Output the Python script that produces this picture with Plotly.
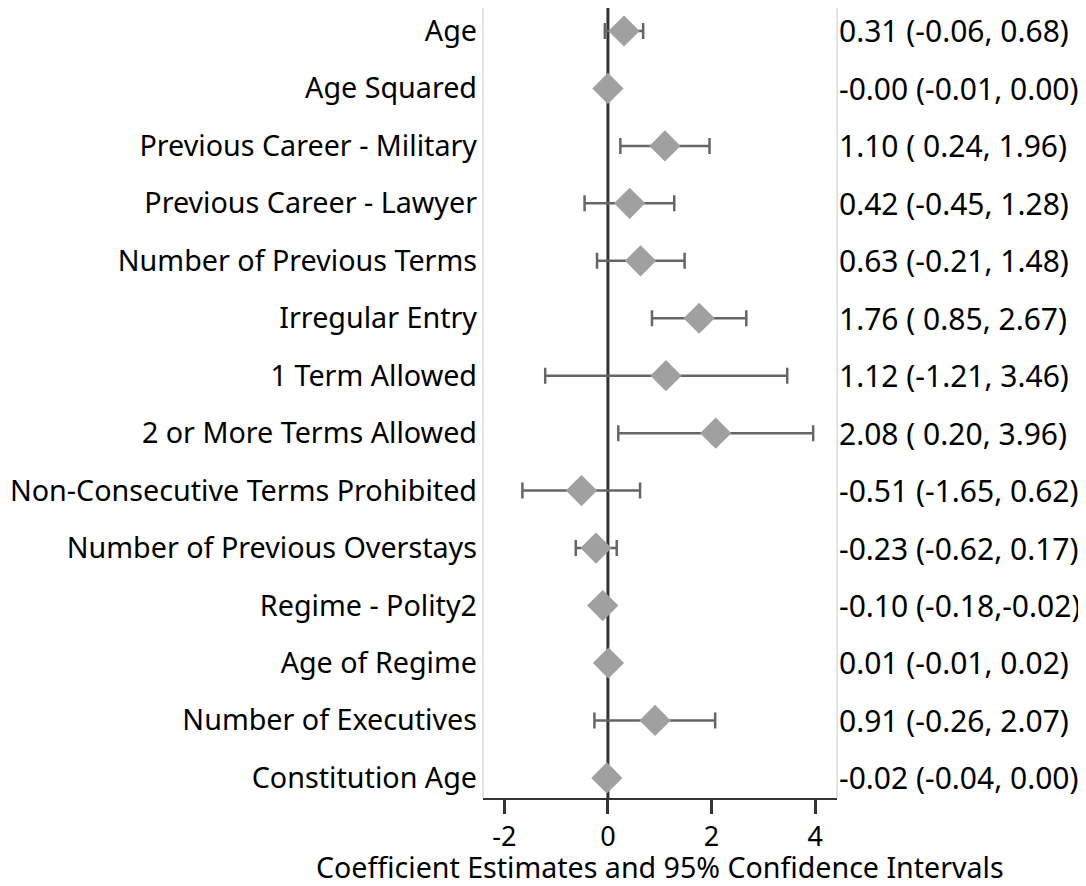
import plotly.graph_objects as go

labels = ["Age", "Age Squared", "Previous Career - Military", "Previous Career - Lawyer",
          "Number of Previous Terms", "Irregular Entry", "1 Term Allowed",
          "2 or More Terms Allowed", "Non-Consecutive Terms Prohibited",
          "Number of Previous Overstays", "Regime - Polity2", "Age of Regime",
          "Number of Executives", "Constitution Age"]
est = [0.31, -0.00, 1.10, 0.42, 0.63, 1.76, 1.12, 2.08, -0.51, -0.23, -0.10, 0.01, 0.91, -0.02]
lo = [-0.06, -0.01, 0.24, -0.45, -0.21, 0.85, -1.21, 0.20, -1.65, -0.62, -0.18, -0.01, -0.26, -0.04]
hi = [0.68, 0.00, 1.96, 1.28, 1.48, 2.67, 3.46, 3.96, 0.62, 0.17, -0.02, 0.02, 2.07, 0.00]
right_text = ["0.31 (-0.06, 0.68)", "-0.00 (-0.01, 0.00)", "1.10 ( 0.24, 1.96)",
              "0.42 (-0.45, 1.28)", "0.63 (-0.21, 1.48)", "1.76 ( 0.85, 2.67)",
              "1.12 (-1.21, 3.46)", "2.08 ( 0.20, 3.96)", "-0.51 (-1.65, 0.62)",
              "-0.23 (-0.62, 0.17)", "-0.10 (-0.18,-0.02)", "0.01 (-0.01, 0.02)",
              "0.91 (-0.26, 2.07)", "-0.02 (-0.04, 0.00)"]
xticks = [-2, 0, 2, 4]
title = "Coefficient Estimates and 95% Confidence Intervals"

n = len(labels)
ypos = list(range(n, 0, -1))
FONT = "Noto Sans"

fig = go.Figure()
fig.add_trace(go.Scatter(
    x=est, y=ypos, mode="markers",
    marker=dict(symbol="diamond", size=24, color="#a0a0a0", line=dict(width=0)),
    error_x=dict(type="data", symmetric=False,
                 array=[h - e for h, e in zip(hi, est)],
                 arrayminus=[e - l for e, l in zip(est, lo)],
                 color="#666666", thickness=2.5, width=8),
    showlegend=False,
))

fig.add_shape(type="line", x0=0, x1=0, y0=0, y1=1, xref="x", yref="paper",
              line=dict(color="#333333", width=3), layer="below")

for y, t in zip(ypos, right_text):
    fig.add_annotation(x=1, xref="paper", y=y, yref="y", text=t, showarrow=False,
                       xanchor="left", xshift=0, font=dict(family=FONT, size=30, color="black"))

fig.add_annotation(x=0.5, xref="paper", y=-0.087, yref="paper", yanchor="middle",
                   text=title, showarrow=False,
                   font=dict(family=FONT, size=28.6, color="black"))

fig.update_layout(
    width=1086, height=886,
    margin=dict(l=475, r=257, t=0, b=96),
    plot_bgcolor="white", paper_bgcolor="white",
    font=dict(family=FONT, size=28, color="black"),
    xaxis=dict(range=[-2.41, 4.42], tickvals=xticks, ticktext=[str(v) for v in xticks],
               showgrid=False, zeroline=False, showline=True, linecolor="#333333", linewidth=2,
               ticks="outside", ticklen=14, tickwidth=2.5, tickcolor="#333333",
               tickfont=dict(size=27)),
    yaxis=dict(range=[0.65, 14.4], tickvals=ypos, ticktext=labels, showgrid=False,
               zeroline=False, showline=False, ticks="", ticklabelstandoff=5,
               tickfont=dict(size=28.7)),
)
fig.add_shape(type="line", x0=0, x1=0, y0=0, y1=1, xref="paper", yref="paper",
              line=dict(color="#c8c8c8", width=1))
fig.add_shape(type="line", x0=1, x1=1, y0=0, y1=1, xref="paper", yref="paper",
              line=dict(color="#c8c8c8", width=1))

fig.write_html("out.html")
